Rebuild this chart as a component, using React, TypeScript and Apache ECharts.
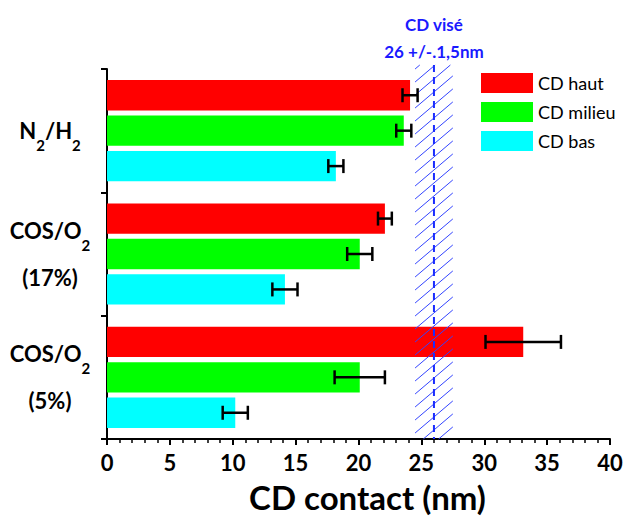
import React, { useEffect, useRef } from "react";
import * as echarts from "echarts";

const categories = ["N2/H2", "COS/O2 (17%)", "COS/O2 (5%)"];
const categoryLabels = [
  "{b|N}{s|2}{b|/H}{s|2}",
  "{b|COS/O}{s|2}\n{b|(17%)}",
  "{b|COS/O}{s|2}\n{b|(5%)}",
];
const seriesNames = ["CD haut", "CD milieu", "CD bas"];
const cdHaut = [24.1, 22.1, 33.1];
const cdHautErr = [0.6, 0.55, 3];
const cdMilieu = [23.6, 20.1, 20.1];
const cdMilieuErr = [0.6, 1, 2];
const cdBas = [18.2, 14.15, 10.2];
const cdBasErr = [0.6, 1, 1];
const targetCD = 26;
const targetTol = 1.5;
const targetTitle = "CD visé";
const targetLabel = "26 +/-.1,5nm";
const xMin = 0;
const xMax = 40;
const xInterval = 5;

const colors = ["#ff0000", "#00ff00", "#00ffff"];
const FONT = "Lato";
const CAT_GAP = 0.18;
const BAR_GAP = 0.17;

export default function App() {
  const ref = useRef<HTMLDivElement>(null);
  useEffect(() => {
    if (!ref.current) return;
    const chart = echarts.init(ref.current, null, { renderer: "svg" });
    const values = [cdHaut, cdMilieu, cdBas];
    const errs = [cdHautErr, cdMilieuErr, cdBasErr];

    const barSeries = seriesNames.map((name, i) => ({
      name,
      type: "bar",
      data: values[i],
      itemStyle: { color: colors[i] },
      barCategoryGap: (CAT_GAP * 100).toFixed(0) + "%",
      barGap: (BAR_GAP * 100).toFixed(0) + "%",
      z: 2,
    }));

    const errSeries = seriesNames.map((name, i) => ({
      type: "custom",
      name: name + "_err",
      z: 5,
      encode: { y: 0, x: [1, 2] },
      data: values[i].map((v, c) => [c, v - errs[i][c], v + errs[i][c], i]),
      renderItem: (params: any, api: any) => {
        const c = api.value(0);
        const lo = api.value(1);
        const hi = api.value(2);
        const si = api.value(3);
        const band = api.size([0, 1])[1];
        const w = (band * (1 - CAT_GAP)) / (3 + 2 * BAR_GAP);
        const total = 3 * w + 2 * BAR_GAP * w;
        const off = -total / 2 + si * w * (1 + BAR_GAP) + w / 2;
        const p1 = api.coord([lo, c]);
        const p2 = api.coord([hi, c]);
        const y = p1[1] + off;
        const cap = 7;
        const st = { stroke: "#000", lineWidth: 2.5 };
        return {
          type: "group",
          children: [
            { type: "line", shape: { x1: p1[0], y1: y, x2: p2[0], y2: y }, style: st },
            { type: "line", shape: { x1: p1[0], y1: y - cap, x2: p1[0], y2: y + cap }, style: st },
            { type: "line", shape: { x1: p2[0], y1: y - cap, x2: p2[0], y2: y + cap }, style: st },
          ],
        };
      },
    }));

    const bandSeries = {
      type: "custom",
      name: "target",
      z: 4,
      clip: false,
      encode: { x: [0, 1, 2] },
      data: [[targetCD - targetTol, targetCD + targetTol, targetCD]],
      renderItem: (params: any, api: any) => {
        const cs = params.coordSys;
        const x1 = api.coord([api.value(0), 0])[0];
        const x2 = api.coord([api.value(1), 0])[0];
        const xc = api.coord([api.value(2), 0])[0];
        const top = cs.y - 4;
        const bot = cs.y + cs.height;
        const W = x2 - x1;
        const slope = 0.85;
        const rise = W * slope;
        const step = 13;
        const children: any[] = [];
        const lineStyle = { stroke: "#3344ff", lineWidth: 1 };
        for (let y0 = top + 4; y0 < bot + rise; y0 += step) {
          let sx = x1, sy = y0;
          if (y0 > bot) { sx = x1 + (y0 - bot) / slope; sy = bot; }
          let ex = x2, ey = y0 - rise;
          if (ey < top) { ex = x1 + (y0 - top) / slope; ey = top; }
          if (ex <= sx) continue;
          children.push({ type: "line", shape: { x1: sx, y1: sy, x2: ex, y2: ey }, style: lineStyle });
        }
        children.push({
          type: "line",
          shape: { x1: xc, y1: top, x2: xc, y2: bot },
          style: { stroke: "#1a2cff", lineWidth: 2, lineDash: [7, 5] },
        });
        children.push({
          type: "text",
          style: {
            x: xc, y: 24, text: targetTitle, align: "center", verticalAlign: "middle",
            fill: "#1a1aff", font: `bold 17px ${FONT}`,
          },
        });
        children.push({
          type: "text",
          style: {
            x: xc, y: 51, text: targetLabel, align: "center", verticalAlign: "middle",
            fill: "#1a1aff", font: `bold 17px ${FONT}`,
          },
        });
        return { type: "group", children };
      },
    };

    chart.setOption({
      animation: false,
      backgroundColor: "#fff",
      grid: { left: 107, right: 16, top: 69, bottom: 77, containLabel: false },
      legend: {
        data: seriesNames,
        orient: "vertical",
        left: 481,
        top: 73,
        padding: 0,
        itemWidth: 52,
        itemHeight: 20,
        itemGap: 9,
        icon: "rect",
        textStyle: { fontSize: 18, fontFamily: FONT, color: "#000" },
      },
      xAxis: {
        type: "value",
        min: xMin,
        max: xMax,
        interval: xInterval,
        splitLine: { show: false },
        axisLine: { show: true, lineStyle: { color: "#000", width: 2 } },
        axisTick: { show: true, length: 6, lineStyle: { color: "#000", width: 2 } },
        minorTick: { show: true, splitNumber: 5, length: 4, lineStyle: { color: "#000", width: 1.5 } },
        axisLabel: { fontSize: 22, fontWeight: "bold", fontFamily: FONT, color: "#000", margin: 12 },
        name: "CD contact (nm)",
        nameLocation: "middle",
        nameGap: 41,
        nameTextStyle: {
          fontSize: 33, fontWeight: "bold", fontFamily: FONT, color: "#000",
          padding: [0, 0, 0, 18],
        },
      },
      yAxis: {
        type: "category",
        data: categories,
        inverse: true,
        axisLine: { show: true, lineStyle: { color: "#000", width: 2 } },
        axisTick: { show: true, length: 6, lineStyle: { color: "#000", width: 2 } },
        axisLabel: {
          margin: 57,
          align: "center",
          formatter: (v: string) => categoryLabels[categories.indexOf(v)],
          rich: {
            b: { fontSize: 22, fontWeight: "bold", fontFamily: FONT, color: "#000", lineHeight: 47 },
            s: {
              fontSize: 15, fontWeight: "bold", fontFamily: FONT, color: "#000",
              verticalAlign: "middle", padding: [28, 0, 0, 0], lineHeight: 16,
            },
          },
        },
      },
      series: [...barSeries, bandSeries, ...errSeries],
    });
    return () => chart.dispose();
  }, []);
  return (
    <div
      ref={ref}
      style={{ position: "fixed", left: 0, top: 0, width: 626, height: 518, background: "#fff" }}
    />
  );
}
